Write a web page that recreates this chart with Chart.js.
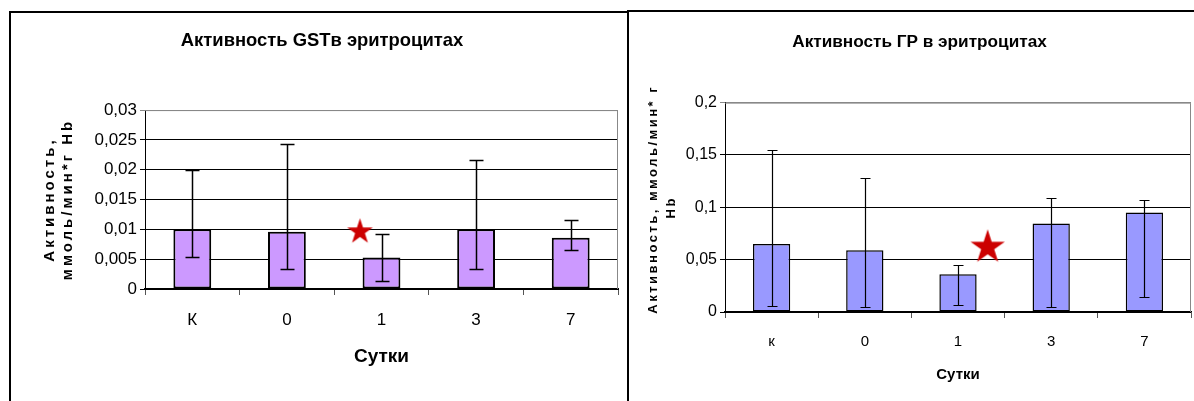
<!DOCTYPE html>
<html>
<head>
<meta charset="utf-8">
<script src="https://cdn.jsdelivr.net/npm/chart.js@4.4.1/dist/chart.umd.min.js"></script>
<style>
  body { margin: 0; background: #fff; overflow: hidden; width: 1194px; height: 401px; position: relative; }
  .panel { position: absolute; border: 2px solid #000; background: #fff; overflow: hidden; }
  #p1 { left: 9px; top: 11px; width: 640px; height: 420px; }
  #p2 { left: 627px; top: 10px; width: 600px; height: 420px; }
  canvas { position: absolute; left: 0; top: 0; }
</style>
</head>
<body>
<div class="panel" id="p1"><canvas id="gst" width="622" height="388"></canvas></div>
<div class="panel" id="p2"><canvas id="gr" width="581" height="389"></canvas></div>
<script>
// data
const daysGST = ['К', '0', '1', '3', '7'];
const daysGR = ['к', '0', '1', '3', '7'];

const gstMean = [0.0100, 0.0096, 0.0053, 0.0100, 0.0086];
const gstLow  = [0.0053, 0.0033, 0.0013, 0.0033, 0.0066];
const gstHigh = [0.0200, 0.0243, 0.0092, 0.0217, 0.0115];

const grMean = [0.065, 0.059, 0.036, 0.0845, 0.095];
const grLow  = [0.0057, 0.0045, 0.0070, 0.0045, 0.0147];
const grHigh = [0.155, 0.128, 0.0453, 0.1085, 0.107];

// significance marks (x in category units)
const gstStar = [{ x: 1.75, y: 0.0096 }];
const grStar  = [{ x: 2.35, y: 0.0618 }];

const sans = '"Liberation Sans", Arial, sans-serif';

function starImage(r, color) {
  const s = Math.ceil(r * 2) + 2;
  const c = document.createElement('canvas');
  c.width = s; c.height = s;
  const g = c.getContext('2d');
  g.fillStyle = color;
  g.beginPath();
  for (let k = 0; k < 10; k++) {
    const rad = k % 2 === 0 ? r : r * 0.382;
    const a = -Math.PI / 2 + k * Math.PI / 5;
    const px = s / 2 + rad * Math.cos(a);
    const py = s / 2 + rad * Math.sin(a);
    if (k === 0) g.moveTo(px, py); else g.lineTo(px, py);
  }
  g.closePath();
  g.fill();
  return c;
}

const errorBars = {
  id: 'errorBars',
  afterDatasetsDraw(chart, args, opts) {
    const meta = chart.getDatasetMeta(0);
    const y = chart.scales.y;
    const ctx = chart.ctx;
    ctx.save();
    ctx.strokeStyle = opts.color;
    ctx.lineWidth = opts.width;
    meta.data.forEach(function(bar, i) {
      const top = Math.round(y.getPixelForValue(opts.high[i])) + 0.5;
      const bot = Math.round(y.getPixelForValue(opts.low[i])) + 0.5;
      const x = Math.round(bar.x) + 0.5;
      ctx.beginPath();
      ctx.moveTo(x, top); ctx.lineTo(x, bot);
      ctx.moveTo(x - opts.cap, top); ctx.lineTo(x + opts.cap, top);
      ctx.moveTo(x - opts.cap, bot); ctx.lineTo(x + opts.cap, bot);
      ctx.stroke();
    });
    ctx.restore();
  }
};

const plotFrame = {
  id: 'plotFrame',
  beforeDatasetsDraw(chart) {
    const a = chart.chartArea;
    const ctx = chart.ctx;
    ctx.save();
    ctx.strokeStyle = '#888';
    ctx.lineWidth = 1;
    ctx.beginPath();
    ctx.moveTo(a.left, a.top + 0.5);
    ctx.lineTo(a.right - 0.5, a.top + 0.5);
    ctx.lineTo(a.right - 0.5, a.bottom);
    ctx.stroke();
    ctx.restore();
  }
};

const yTitle = {
  id: 'yTitle',
  afterDraw(chart, args, opts) {
    const a = chart.chartArea;
    const ctx = chart.ctx;
    ctx.save();
    ctx.font = opts.font;
    ctx.fillStyle = '#000';
    ctx.textAlign = 'center';
    ctx.textBaseline = 'middle';
    ctx.letterSpacing = opts.spacing;
    opts.lines.forEach(function(t, i) {
      ctx.save();
      ctx.translate(opts.x[i], (a.top + a.bottom) / 2 + opts.dy[i]);
      ctx.rotate(-Math.PI / 2);
      ctx.fillText(t, 0, 0);
      ctx.restore();
    });
    ctx.restore();
  }
};

Chart.defaults.color = '#000';
Chart.defaults.animation = false;

function makeChart(id, cfg) {
  return new Chart(document.getElementById(id), {
    type: 'bar',
    data: {
      labels: cfg.labels,
      datasets: [
        {
          data: cfg.mean,
          backgroundColor: cfg.fill,
          borderColor: '#000',
          borderWidth: cfg.barBorder,
          borderSkipped: false,
          grouped: false,
          categoryPercentage: 1,
          barPercentage: 0.4,
          order: 2
        },
        {
          type: 'scatter',
          data: cfg.star,
          xAxisID: 'xs',
          pointStyle: starImage(cfg.starR, '#cc0000'),
          pointRadius: cfg.starR,
          order: 1
        }
      ]
    },
    options: {
      responsive: false,
      layout: { padding: { left: cfg.pad, right: cfg.pad, top: 0, bottom: 0 } },
      plugins: {
        legend: { display: false },
        tooltip: { enabled: false },
        title: {
          display: true,
          text: cfg.title,
          font: { family: sans, size: cfg.titleSize, weight: 'bold' },
          padding: { top: cfg.titlePad[0], bottom: cfg.titlePad[1] }
        },
        errorBars: { high: cfg.high, low: cfg.low, cap: cfg.cap, width: cfg.errWidth, color: '#000' },
        yTitle: cfg.yTitle
      },
      scales: {
        x: {
          afterFit: function(s) { s.height = cfg.xHeight; },
          grid: { offset: true, drawOnChartArea: false, tickLength: 6, color: '#555' },
          border: { color: '#000', width: cfg.axisWidth },
          ticks: { font: { family: sans, size: cfg.xTickSize }, padding: cfg.xTickPad },
          title: {
            display: true,
            text: 'Сутки',
            font: { family: sans, size: cfg.xTitleSize, weight: 'bold' },
            padding: { top: 0, bottom: cfg.xTitlePad }
          }
        },
        xs: { type: 'linear', display: false, min: -0.5, max: 4.5 },
        y: {
          min: 0,
          max: cfg.yMax,
          afterFit: function(s) { s.width = cfg.yWidth; },
          ticks: {
            stepSize: cfg.yStep,
            padding: 3,
            font: { family: sans, size: cfg.yTickSize },
            callback: function(v) { return String(+v.toFixed(3)).replace('.', ','); }
          },
          grid: {
            tickLength: 5,
            color: function(c) { return c.tick && c.tick.value >= cfg.yMax - 1e-9 ? '#888' : '#000'; }
          },
          border: { color: '#000', width: 1 }
        }
      }
    },
    plugins: [plotFrame, errorBars, yTitle]
  });
}

makeChart('gst', {
  labels: daysGST, mean: gstMean, high: gstHigh, low: gstLow, star: gstStar,
  fill: '#cc99ff', barBorder: 2, starR: 13.5, cap: 7, errWidth: 1.5,
  title: 'Активность GSTв эритроцитах', titleSize: 18.4, titlePad: [17, 58],
  pad: 15, xHeight: 112, axisWidth: 2, xTickSize: 17, xTickPad: 15,
  xTitleSize: 19, xTitlePad: 33,
  yMax: 0.03, yStep: 0.005, yWidth: 119, yTickSize: 17,
  yTitle: {
    lines: ['Активность,', 'ммоль/мин*г Hb'],
    x: [39, 57], dy: [0, 0],
    font: 'bold 15px "Liberation Sans", sans-serif', spacing: '3px'
  }
});

makeChart('gr', {
  labels: daysGR, mean: grMean, high: grHigh, low: grLow, star: grStar,
  fill: '#9999ff', barBorder: 1.5, starR: 18, cap: 5, errWidth: 1.2,
  title: 'Активность ГР в эритроцитах', titleSize: 17.2, titlePad: [20, 50],
  pad: 18, xHeight: 89, axisWidth: 1.5, xTickSize: 15, xTickPad: 15,
  xTitleSize: 15, xTitlePad: 17,
  yMax: 0.2, yStep: 0.05, yWidth: 78, yTickSize: 16,
  yTitle: {
    lines: ['Активность, ммоль/мин* г', 'Hb'],
    x: [24, 42], dy: [-8, 0],
    font: 'bold 13px "Liberation Sans", sans-serif', spacing: '2.5px'
  }
});
</script>
</body>
</html>
